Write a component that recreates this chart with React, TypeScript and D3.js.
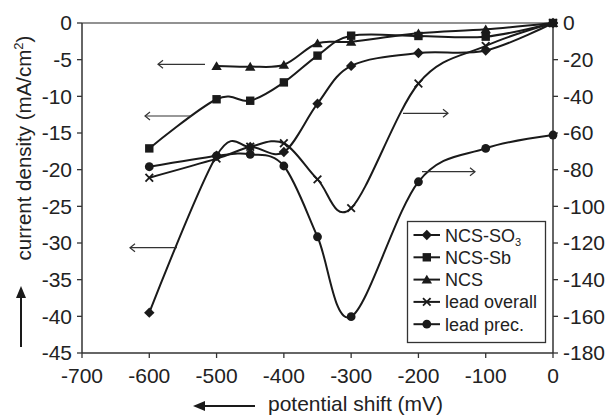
import React from "react";
import * as d3 from "d3";

const potentials = [-600, -500, -450, -400, -350, -300, -200, -100, 0];
const ncsSO3 = [-39.5, -18.1, -16.9, -17.6, -11.0, -5.85, -4.1, -3.75, 0];
const ncsSb = [-17.1, -10.4, -10.6, -8.1, -4.45, -1.73, -1.77, -1.86, 0];
const ncs: (number | null)[] = [null, -5.86, -5.95, -5.7, -2.77, -2.55, -1.4, -0.86, 0];
const leadOverall = [-84.4, -74, -67.5, -65.6, -85.3, -101, -33, -12.5, 0];
const leadPrec = [-78.4, -72.5, -71.6, -78, -116.6, -160.2, -86.6, -68.4, -61.1];

const xTicks = [-700, -600, -500, -400, -300, -200, -100, 0];
const yLeftTicks = [0, -5, -10, -15, -20, -25, -30, -35, -40, -45];
const yRightTicks = [0, -20, -40, -60, -80, -100, -120, -140, -160, -180];

const FONT = "'Liberation Sans', Arial, sans-serif";
const INK = "#1a1a1a";

type MarkerKind = "diamond" | "square" | "triangle" | "cross" | "circle";

function Marker({ kind, x, y }: { kind: MarkerKind; x: number; y: number }) {
  const t = `translate(${x},${y})`;
  if (kind === "diamond") return <path transform={t} d="M0,-5.2L5.2,0L0,5.2L-5.2,0Z" fill={INK} />;
  if (kind === "square") return <rect transform={t} x={-4.2} y={-4.2} width={8.4} height={8.4} fill={INK} />;
  if (kind === "triangle") return <path transform={t} d="M0,-4.8L5.2,4L-5.2,4Z" fill={INK} />;
  if (kind === "circle") return <circle transform={t} r={4.4} fill={INK} />;
  return (
    <g transform={t} stroke={INK} strokeWidth={1.8}>
      <line x1={-3.8} y1={-3.8} x2={3.8} y2={3.8} />
      <line x1={-3.8} y1={3.8} x2={3.8} y2={-3.8} />
    </g>
  );
}

export default function App() {
  const x = d3.scaleLinear().domain([-700, 0]).range([82, 553]);
  const yL = d3.scaleLinear().domain([-45, 0]).range([353, 23]);
  const yR = d3.scaleLinear().domain([-180, 0]).range([353, 23]);

  const series: { name: string; values: (number | null)[]; axis: "L" | "R"; kind: MarkerKind }[] = [
    { name: "NCS-SO3", values: ncsSO3, axis: "L", kind: "diamond" },
    { name: "NCS-Sb", values: ncsSb, axis: "L", kind: "square" },
    { name: "NCS", values: ncs, axis: "L", kind: "triangle" },
    { name: "lead overall", values: leadOverall, axis: "R", kind: "cross" },
    { name: "lead prec.", values: leadPrec, axis: "R", kind: "circle" },
  ];

  const line = d3
    .line<[number, number]>()
    .x((d) => d[0])
    .y((d) => d[1])
    .curve(d3.curveCardinal.tension(0));

  const left = 82, right = 553, top = 23, bottom = 353;

  const openArrow = (x1: number, x2: number, y: number, key: string) => {
    const dir = x2 < x1 ? 1 : -1;
    return (
      <g key={key} stroke="#333" strokeWidth={1.2} fill="none">
        <line x1={x1} y1={y} x2={x2} y2={y} />
        <path d={`M${x2 + dir * 5},${y - 4}L${x2},${y}L${x2 + dir * 5},${y + 4}`} />
      </g>
    );
  };

  const legendItems = series;
  const lgX = 407.5, lgY = 221.5, lgW = 138, lgH = 121;

  return (
    <div style={{ position: "absolute", left: 0, top: 0 }}>
      <svg width={608} height={416} style={{ display: "block", fontFamily: FONT }}>
        <rect width={608} height={416} fill="#fff" />
        {/* axes */}
        <line x1={left} y1={top} x2={right} y2={top} stroke="#6e6e6e" strokeWidth={1.6} />
        <line x1={left} y1={top} x2={left} y2={bottom} stroke="#333" strokeWidth={1.5} />
        <line x1={right} y1={top} x2={right} y2={bottom} stroke="#333" strokeWidth={1.5} />
        <line x1={left} y1={bottom} x2={right} y2={bottom} stroke="#333" strokeWidth={1.5} />
        {yLeftTicks.map((t) => (
          <g key={"yl" + t}>
            <line x1={left - 5} x2={left} y1={yL(t)} y2={yL(t)} stroke="#333" strokeWidth={1.3} />
            <text x={72} y={yL(t) + 7.3} textAnchor="end" fontSize={21} fill="#222">
              {t}
            </text>
          </g>
        ))}
        {yRightTicks.map((t) => (
          <g key={"yr" + t}>
            <line x1={right} x2={right + 5} y1={yR(t)} y2={yR(t)} stroke="#333" strokeWidth={1.3} />
            <text x={563} y={yR(t) + 7.3} textAnchor="start" fontSize={21} fill="#222">
              {t}
            </text>
          </g>
        ))}
        {xTicks.map((t) => (
          <g key={"x" + t}>
            <line x1={x(t)} x2={x(t)} y1={bottom} y2={bottom + 5} stroke="#333" strokeWidth={1.3} />
            <text x={x(t)} y={382.5} textAnchor="middle" fontSize={21} fill="#222">
              {t}
            </text>
          </g>
        ))}

        {/* series lines */}
        {series.map((s) => {
          const ys = s.axis === "L" ? yL : yR;
          const pts: [number, number][] = [];
          s.values.forEach((v, i) => {
            if (v !== null) pts.push([x(potentials[i]), ys(v)]);
          });
          return <path key={s.name} d={line(pts) || ""} fill="none" stroke={INK} strokeWidth={2} />;
        })}
        {series.map((s) => {
          const ys = s.axis === "L" ? yL : yR;
          return (
            <g key={s.name + "m"}>
              {s.values.map((v, i) =>
                v === null ? null : <Marker key={i} kind={s.kind} x={x(potentials[i])} y={ys(v)} />
              )}
            </g>
          );
        })}

        {/* axis indicator arrows */}
        {openArrow(205, 158, 64.3, "a1")}
        {openArrow(192, 145, 116, "a2")}
        {openArrow(177, 130, 247.7, "a3")}
        {openArrow(403, 448, 113.3, "a4")}
        {openArrow(422, 475, 171.7, "a5")}

        {/* legend */}
        <rect x={lgX} y={lgY} width={lgW} height={lgH} fill="#fff" stroke="#333" strokeWidth={1.3} />
        {legendItems.map((s, i) => {
          const cy = 235 + i * 22.3;
          return (
            <g key={"lg" + s.name}>
              <line x1={413.5} x2={440} y1={cy} y2={cy} stroke={INK} strokeWidth={2} />
              <Marker kind={s.kind} x={426.8} y={cy} />
              <text x={445} y={cy + 6.5} fontSize={18} fill="#222">
                {s.name === "NCS-SO3" ? (
                  <>
                    NCS-SO
                    <tspan fontSize={11} dy={4}>
                      3
                    </tspan>
                  </>
                ) : (
                  s.name
                )}
              </text>
            </g>
          );
        })}

        {/* y axis label */}
        <text
          transform="translate(31,148) rotate(-90)"
          textAnchor="middle"
          fontSize={20.5}
          fill="#222"
        >
          current density (mA/cm
          <tspan fontSize={13} dy={-8}>
            2
          </tspan>
          <tspan dy={8}>)</tspan>
        </text>
        {/* up arrow */}
        <line x1={21} y1={347} x2={21} y2={295} stroke={INK} strokeWidth={2} />
        <path d="M21,286L26,298L16,298Z" fill={INK} />

        {/* x axis label */}
        <line x1={255} y1={406} x2={203} y2={406} stroke={INK} strokeWidth={2} />
        <path d="M193,406L205,401L205,411Z" fill={INK} />
        <text x={268} y={411} fontSize={21} fill="#222">
          potential shift (mV)
        </text>
      </svg>
    </div>
  );
}
